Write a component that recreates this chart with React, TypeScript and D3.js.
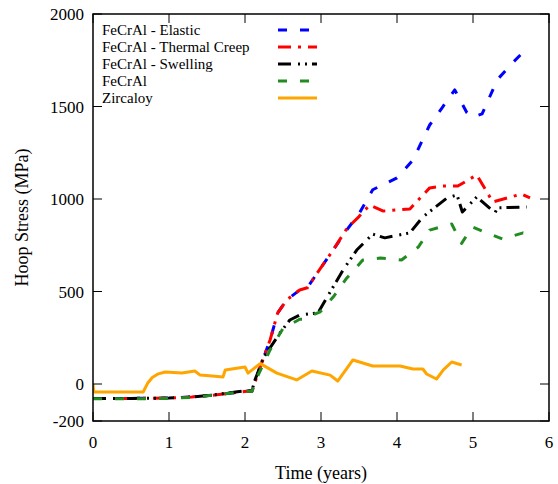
import React from "react";
import * as d3 from "d3";

const elasticX = [0, 0.5, 1.0, 1.3, 1.6, 1.9, 2.05, 2.09, 2.2, 2.33, 2.43, 2.55, 2.72, 2.82, 2.95, 3.16, 3.34, 3.5, 3.68, 4.0, 4.21, 4.43, 4.6, 4.76, 4.92, 5.0, 5.12, 5.32, 5.53, 5.74];
const elasticY = [-78, -78, -76, -70, -60, -45, -38, -40, 92, 238, 384, 455, 508, 520, 600, 724, 833, 920, 1050, 1114, 1211, 1400, 1497, 1590, 1466, 1444, 1460, 1645, 1740, 1827];

const creepX = [0, 0.5, 1.0, 1.3, 1.6, 1.9, 2.05, 2.09, 2.2, 2.33, 2.43, 2.55, 2.72, 2.82, 2.95, 3.16, 3.34, 3.5, 3.64, 3.82, 4.17, 4.28, 4.43, 4.6, 4.8, 5.05, 5.26, 5.64, 5.75];
const creepY = [-78, -78, -76, -70, -60, -45, -38, -40, 92, 238, 384, 455, 508, 520, 600, 724, 840, 905, 968, 935, 946, 995, 1060, 1070, 1070, 1130, 984, 1027, 1006];

const swellX = [0, 0.5, 1.0, 1.3, 1.6, 1.9, 2.05, 2.09, 2.13, 2.24, 2.46, 2.59, 2.72, 2.96, 3.16, 3.29, 3.47, 3.68, 3.84, 4.17, 4.34, 4.66, 4.79, 4.86, 5.05, 5.29, 5.32, 5.71];
const swellY = [-78, -78, -76, -70, -58, -42, -35, -38, 20, 140, 276, 346, 373, 384, 525, 616, 724, 810, 790, 817, 903, 1006, 1022, 930, 1011, 925, 952, 957];

const fecralX = [0, 0.5, 1.0, 1.3, 1.6, 1.9, 2.05, 2.09, 2.16, 2.33, 2.5, 2.72, 2.76, 2.99, 3.16, 3.34, 3.55, 3.78, 4.06, 4.28, 4.43, 4.72, 4.85, 4.99, 5.18, 5.39, 5.66, 5.75];
const fecralY = [-80, -80, -78, -72, -60, -45, -38, -40, 37, 184, 300, 350, 350, 390, 470, 573, 670, 681, 670, 740, 832, 865, 760, 849, 817, 784, 817, 810];

const zircX = [0, 0.01, 0.66, 0.72, 0.78, 0.86, 0.95, 1.17, 1.34, 1.41, 1.57, 1.71, 1.74, 2.0, 2.04, 2.2, 2.42, 2.68, 2.88, 3.12, 3.22, 3.42, 3.68, 4.04, 4.21, 4.34, 4.39, 4.52, 4.61, 4.72, 4.85];
const zircY = [0, -43, -43, 5, 35, 55, 65, 59, 70, 48, 43, 38, 76, 92, 59, 110, 59, 22, 70, 48, 16, 130, 97, 97, 81, 81, 54, 27, 76, 119, 103];

const seriesNames = ["FeCrAl - Elastic", "FeCrAl - Thermal Creep", "FeCrAl - Swelling", "FeCrAl", "Zircaloy"];
const seriesColors = ["#0000ff", "#ff0000", "#000000", "#228b22", "#ffa500"];
const seriesDash = ["9 13", "13 7 3 7", "13 7 2 5 2 5", "9 13", ""];

const xTicks = [0, 1, 2, 3, 4, 5, 6];
const yTicks = [-200, 0, 500, 1000, 1500, 2000];

export default function App() {
  const W = 558, H = 484;
  const left = 93, right = 549, top = 14, bottom = 421;
  const x = d3.scaleLinear().domain([0, 6]).range([left, right]);
  const y = d3.scaleLinear().domain([-200, 2000]).range([bottom, top]);
  const line = d3.line<[number, number]>().x(d => x(d[0])).y(d => y(d[1]));
  const data: [number[], number[]][] = [
    [elasticX, elasticY],
    [creepX, creepY],
    [swellX, swellY],
    [fecralX, fecralY],
    [zircX, zircY],
  ];
  const ts = { fontFamily: "Liberation Serif, Times New Roman, DejaVu Serif, serif" };
  const tl = 9;
  return (
    <svg width={W} height={H} style={{ position: "absolute", left: 0, top: 0, background: "#fff" }}>
      <rect x={0} y={0} width={W} height={H} fill="#fff" />
      <defs>
        <clipPath id="plotclip">
          <rect x={left} y={top} width={right - left} height={bottom - top} />
        </clipPath>
      </defs>
      <g clipPath="url(#plotclip)">
        {data.map((s, i) => (
          <path
            key={i}
            d={line(s[0].map((v, j) => [v, s[1][j]] as [number, number])) || ""}
            fill="none"
            stroke={seriesColors[i]}
            strokeWidth={3}
            strokeDasharray={seriesDash[i] || undefined}
            strokeLinejoin="round"
          />
        ))}
      </g>
      <rect x={left} y={top} width={right - left} height={bottom - top} fill="none" stroke="#000" strokeWidth={1.5} />
      {xTicks.map(t => (
        <g key={"x" + t}>
          <line x1={x(t)} x2={x(t)} y1={bottom} y2={bottom - tl} stroke="#000" strokeWidth={1} />
          <line x1={x(t)} x2={x(t)} y1={top} y2={top + tl} stroke="#000" strokeWidth={1} />
          <text x={x(t)} y={448} textAnchor="middle" fontSize={17} style={ts}>{t}</text>
        </g>
      ))}
      {yTicks.map(t => (
        <g key={"y" + t}>
          <line x1={left} x2={left + tl} y1={y(t)} y2={y(t)} stroke="#000" strokeWidth={1} />
          <line x1={right} x2={right - tl} y1={y(t)} y2={y(t)} stroke="#000" strokeWidth={1} />
          <text x={84} y={y(t) + 6} textAnchor="end" fontSize={17} style={ts}>{t}</text>
        </g>
      ))}
      <text x={321} y={479} textAnchor="middle" fontSize={18} style={ts}>Time (years)</text>
      <text transform={`translate(28,${(top + bottom) / 2}) rotate(-90)`} textAnchor="middle" fontSize={18} style={ts}>Hoop Stress (MPa)</text>
      {seriesNames.map((n, i) => {
        const ly = 30 + i * 17;
        return (
          <g key={n}>
            <text x={102} y={ly + 5} fontSize={15} style={ts}>{n}</text>
            <line x1={278} x2={317} y1={ly} y2={ly} stroke={seriesColors[i]} strokeWidth={3} strokeDasharray={seriesDash[i] || undefined} />
          </g>
        );
      })}
    </svg>
  );
}
